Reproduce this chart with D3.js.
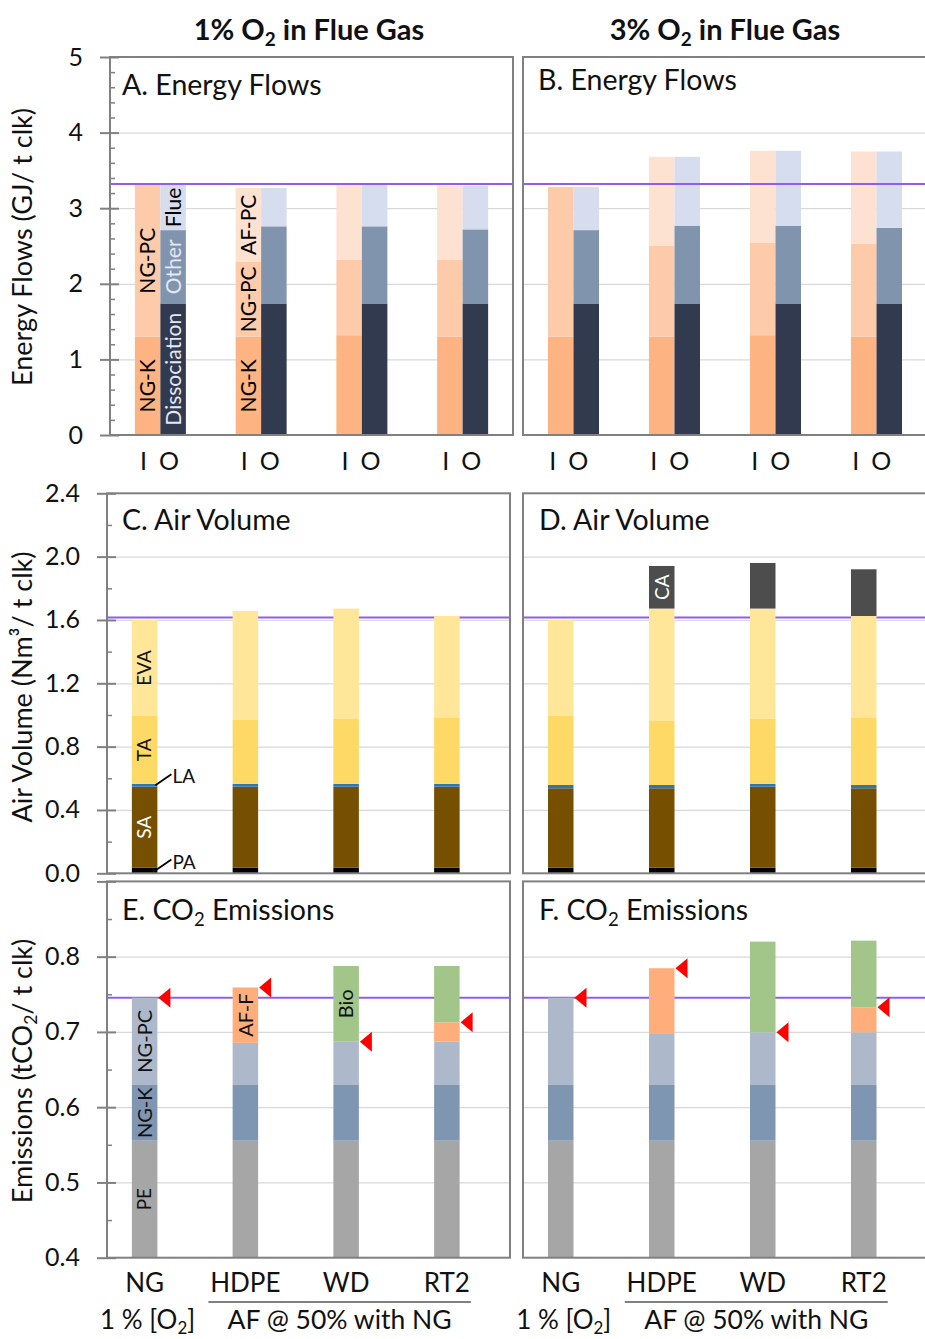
<!DOCTYPE html>
<html><head><meta charset="utf-8">
<script src="https://cdn.jsdelivr.net/npm/d3@7"></script>
<style>body{margin:0;background:#fff} svg{display:block} text{font-family:Lato,'Open Sans',sans-serif}</style>
</head><body><svg id="c" width="925" height="1339"></svg>
<script>
// ---------- DATA ----------
const fuels = ["NG","HDPE","WD","RT2"];
// Energy flows (GJ/t clk), segment sizes. Inputs (I) and outputs (O)
const e1_NGK  = [1.30,1.30,1.32,1.30];
const e1_NGPC = [2.01,0.99,1.00,1.02];
const e1_AFPC = [0.00,0.98,0.99,0.98];
const e1_Diss = [1.74,1.74,1.74,1.74];
const e1_Other= [0.97,1.02,1.02,0.98];
const e1_Flue = [0.60,0.51,0.55,0.58];
const e3_NGK  = [1.30,1.30,1.32,1.30];
const e3_NGPC = [1.98,1.20,1.22,1.23];
const e3_AFPC = [0.00,1.18,1.22,1.22];
const e3_Diss = [1.74,1.74,1.74,1.74];
const e3_Other= [0.97,1.03,1.03,1.00];
const e3_Flue = [0.57,0.91,0.99,1.01];
const refEnergy = 3.32;
// Air volume (Nm3/t clk)
const a1_PA  = [0.035,0.035,0.035,0.035];
const a1_SA  = [0.512,0.512,0.512,0.512];
const a1_LA  = [0.018,0.018,0.018,0.018];
const a1_TA  = [0.429,0.404,0.410,0.416];
const a1_EVA = [0.606,0.688,0.697,0.644];
const a1_CA  = [0,0,0,0];
const a3_PA  = [0.035,0.035,0.035,0.035];
const a3_SA  = [0.502,0.502,0.512,0.502];
const a3_LA  = [0.021,0.021,0.018,0.021];
const a3_TA  = [0.436,0.404,0.410,0.423];
const a3_EVA = [0.606,0.710,0.697,0.644];
const a3_CA  = [0.000,0.269,0.288,0.295];
const refAir = 1.615;
// CO2 emissions (tCO2/t clk)
const c1_PE   = [0.5555,0.5555,0.5555,0.5555];
const c1_NGK  = [0.074,0.074,0.074,0.074];
const c1_NGPC = [0.116,0.056,0.0575,0.0575];
const c1_AFF  = [0.000,0.0736,0.000,0.0258];
const c1_Bio  = [0.000,0.000,0.1006,0.0748];
const c3_PE   = [0.5555,0.5555,0.5555,0.5555];
const c3_NGK  = [0.074,0.074,0.074,0.074];
const c3_NGPC = [0.116,0.0678,0.070,0.070];
const c3_AFF  = [0.000,0.0873,0.000,0.0332];
const c3_Bio  = [0.000,0.000,0.1205,0.0886];
const refCO2 = 0.7455;

const energyTicks = [0,1,2,3,4,5];
const airTicks = [0,0.4,0.8,1.2,1.6,2.0,2.4];
const co2Ticks = [0.4,0.5,0.6,0.7,0.8];

// ---------- STYLE ----------
const col = {
  NGK:"#FDB482", NGPC:"#FDCBA9", AFPC:"#FEE2D1",
  Diss:"#313A4E", Other:"#8094AE", Flue:"#D6DDEF",
  PA:"#000000", SA:"#765000", LA:"#2E75B6", TA:"#FFD966", EVA:"#FFE699", CA:"#4D4D4D",
  PE:"#A6A6A6", cNGK:"#7F96B3", cNGPC:"#ADB9CA", AFF:"#FFAD7A", Bio:"#A2C68A"
};
const purple = "#8F5FE8", frame = "#808080", grid = "#D9D9D9";
const barW = 25.5;

const svg = d3.select("#c");

const layout = {
  A:{x0:110,x1:513,y0:57,y1:435}, B:{x0:523,x1:927,y0:57,y1:435},
  C:{x0:107,x1:510,y0:493.3,y1:873.3}, D:{x0:523,x1:927,y0:493.3,y1:873.3},
  E:{x0:107,x1:510,y0:881.4,y1:1257.7}, F:{x0:523,x1:927,y0:881.4,y1:1257.7}
};

function mk(p, dom){
  return {p, x:d3.scaleBand().domain(fuels).range([p.x0,p.x1]),
          y:d3.scaleLinear().domain(dom).range([p.y1,p.y0]), lo:dom[0]};
}
function barX(P,f,which){ return P.x(f)+P.x.bandwidth()/2-barW+(which==="O"?barW:0); }

function gridlines(P, vals){
  const g = svg.append("g").attr("transform",`translate(${P.p.x0},0)`)
    .call(d3.axisLeft(P.y).tickValues(vals).tickSize(-(P.p.x1-P.p.x0)).tickFormat(""));
  g.select(".domain").remove();
  g.selectAll("line").attr("stroke",grid).attr("stroke-width",1.2);
}
function yaxis(P, major, minor, fmt, labelled){
  const g = svg.append("g").attr("transform",`translate(${P.p.x0},0)`);
  const a = g.append("g").call(d3.axisLeft(P.y).tickValues(major).tickSize(10).tickPadding(17)
     .tickFormat(d=> labelled.includes(d)? fmt(d):""));
  a.select(".domain").remove();
  a.selectAll("line").attr("stroke",frame).attr("stroke-width",2);
  a.selectAll("text").attr("font-size",25).attr("fill","#111").style("font-family","Lato");
  const b = g.append("g").call(d3.axisRight(P.y).tickValues(major).tickSize(9).tickFormat(""));
  b.select(".domain").remove(); b.selectAll("line").attr("stroke",frame).attr("stroke-width",2);
  const c = g.append("g").call(d3.axisRight(P.y).tickValues(minor).tickSize(5).tickFormat(""));
  c.select(".domain").remove(); c.selectAll("line").attr("stroke",frame).attr("stroke-width",1.5);
}
function border(P){
  svg.append("rect").attr("x",P.p.x0).attr("y",P.p.y0).attr("width",P.p.x1-P.p.x0)
    .attr("height",P.p.y1-P.p.y0).attr("fill","none").attr("stroke",frame).attr("stroke-width",2);
}
function refLine(P, v){
  svg.append("line").attr("x1",P.p.x0).attr("x2",P.p.x1).attr("y1",P.y(v)).attr("y2",P.y(v))
    .attr("stroke",purple).attr("stroke-width",2);
}
function stackBars(P, rows, keys, colors, which){
  const series = d3.stack().keys(keys)(rows);
  const g = svg.append("g");
  series.forEach(s=>{
    g.selectAll(null).data(s.filter(d=>d[1]-d[0]>0)).join("rect")
      .attr("x",d=>barX(P,d.data.fuel,which)).attr("width",barW)
      .attr("y",d=>P.y(d[1]))
      .attr("height",d=>P.y(Math.max(d[0],P.lo))-P.y(d[1]))
      .attr("fill",colors[s.key]);
  });
  return series;
}
function segLabel(P, series, which, fuel, key, text, color, size){
  const s = series.find(t=>t.key===key); const d = s[fuels.indexOf(fuel)];
  const cx = barX(P,fuel,which)+barW/2, cy = P.y((Math.max(d[0],P.lo)+d[1])/2);
  svg.append("text").attr("transform",`translate(${cx},${cy}) rotate(-90)`)
    .attr("text-anchor","middle").attr("dy","0.36em").attr("font-size",size).attr("fill",color).text(text);
}
// text with optional subscript parts
function rich(t, parts, size){
  let back = 0;
  parts.forEach(pp=>{
    if(pp.sub){ const off = size*0.2;
      t.append("tspan").attr("font-size",size*0.65).attr("dy",off+back).text(pp.sub); back = -off; }
    else { t.append("tspan").attr("dy",back).text(pp.t); back = 0; }
  });
  return t;
}
function title(x,y,parts,size,weight){
  const t = svg.append("text").attr("x",x).attr("y",y).attr("font-size",size).attr("font-weight",weight||400).attr("fill","#111");
  return rich(t, parts, size);
}

// ---------- TOP: ENERGY ----------
const PA_ = mk(layout.A,[0,5]), PB_ = mk(layout.B,[0,5]);
function energyPanel(P, NGK, NGPC, AFPC, Diss, Other, Flue){
  gridlines(P,[1,2,3,4]);
  const rowsI = fuels.map((f,i)=>({fuel:f, NGK:NGK[i], NGPC:NGPC[i], AFPC:AFPC[i]}));
  const rowsO = fuels.map((f,i)=>({fuel:f, Diss:Diss[i], Other:Other[i], Flue:Flue[i]}));
  const sI = stackBars(P, rowsI, ["NGK","NGPC","AFPC"], col, "I");
  const sO = stackBars(P, rowsO, ["Diss","Other","Flue"], col, "O");
  refLine(P, refEnergy);
  border(P);
  return {sI, sO};
}
const eA = energyPanel(PA_, e1_NGK,e1_NGPC,e1_AFPC,e1_Diss,e1_Other,e1_Flue);
const eB = energyPanel(PB_, e3_NGK,e3_NGPC,e3_AFPC,e3_Diss,e3_Other,e3_Flue);
yaxis(PA_, energyTicks, d3.range(0.2,5,0.2).filter(v=>Math.abs(v-Math.round(v))>0.01), d3.format("d"), energyTicks);
segLabel(PA_, eA.sI, "I","NG","NGK","NG-K","#000",21);
segLabel(PA_, eA.sI, "I","NG","NGPC","NG-PC","#000",21);
segLabel(PA_, eA.sO, "O","NG","Diss","Dissociation","#E4E8F3",21);
segLabel(PA_, eA.sO, "O","NG","Other","Other","#E4E8F3",21);
segLabel(PA_, eA.sO, "O","NG","Flue","Flue","#000",21);
segLabel(PA_, eA.sI, "I","HDPE","NGK","NG-K","#000",21);
segLabel(PA_, eA.sI, "I","HDPE","NGPC","NG-PC","#000",21);
segLabel(PA_, eA.sI, "I","HDPE","AFPC","AF-PC","#000",21);
// I / O labels
[[PA_,-4],[PB_,-8]].forEach(([P,off])=>{
  fuels.forEach(f=>{
    ["I","O"].forEach(w=>{
      svg.append("text").attr("x",barX(P,f,w)+barW/2+off).attr("y",470).attr("text-anchor","middle")
        .attr("font-size",25).attr("fill","#111").text(w);
    });
  });
});
title(122,95,[{t:"A. Energy Flows"}],28.5);
title(538,90,[{t:"B. Energy Flows"}],28.5);
// column titles
title(0,40,[{t:"1% O"},{sub:"2"},{t:" in Flue Gas"}],29,700).attr("x",309).attr("text-anchor","middle");
title(0,40,[{t:"3% O"},{sub:"2"},{t:" in Flue Gas"}],29,700).attr("x",725).attr("text-anchor","middle");

// ---------- MIDDLE: AIR ----------
const PC_ = mk(layout.C,[0,2.4]), PD_ = mk(layout.D,[0,2.4]);
function airPanel(P, PA, SA, LA, TA, EVA, CA){
  gridlines(P,[0.4,0.8,1.2,1.6,2.0]);
  refLine(P, refAir);
  const rows = fuels.map((f,i)=>({fuel:f, PA:PA[i], SA:SA[i], LA:LA[i], TA:TA[i], EVA:EVA[i], CA:CA[i]}));
  const s = stackBars(P, rows, ["PA","SA","LA","TA","EVA","CA"], col, "I");
  border(P);
  return s;
}
const sC = airPanel(PC_, a1_PA,a1_SA,a1_LA,a1_TA,a1_EVA,a1_CA);
const sD = airPanel(PD_, a3_PA,a3_SA,a3_LA,a3_TA,a3_EVA,a3_CA);
yaxis(PC_, airTicks, [0.2,0.6,1.0,1.4,1.8,2.2], d3.format(".1f"), airTicks);
segLabel(PC_, sC, "I","NG","EVA","EVA","#111",19);
segLabel(PC_, sC, "I","NG","TA","TA","#111",19);
segLabel(PC_, sC, "I","NG","SA","SA","#fff",19);
segLabel(PD_, sD, "I","HDPE","CA","CA","#fff",19);
// LA / PA callouts
(function(){
  const bx = barX(PC_,"NG","I")+barW;
  const la = sC.find(t=>t.key==="LA")[0], pa = sC.find(t=>t.key==="PA")[0];
  const yLA = PC_.y((la[0]+la[1])/2), yPA = PC_.y((pa[0]+pa[1])/2);
  [[yLA,"LA"],[yPA,"PA"]].forEach(([yy,t])=>{
    svg.append("line").attr("x1",bx-2).attr("y1",yy).attr("x2",bx+14).attr("y2",yy-11)
      .attr("stroke","#000").attr("stroke-width",1.8);
    svg.append("text").attr("x",bx+15).attr("y",yy-2).attr("font-size",19).attr("fill","#111").text(t);
  });
})();
title(122,530,[{t:"C. Air Volume"}],28.5);
title(539,530,[{t:"D. Air Volume"}],28.5);

// ---------- BOTTOM: CO2 ----------
const PE_ = mk(layout.E,[0.4,0.9]), PF_ = mk(layout.F,[0.4,0.9]);
const cCol = {PE:col.PE, NGK:col.cNGK, NGPC:col.cNGPC, AFF:col.AFF, Bio:col.Bio};
function co2Panel(P, PE, NGK, NGPC, AFF, Bio){
  gridlines(P,[0.5,0.6,0.7,0.8]);
  refLine(P, refCO2);
  const rows = fuels.map((f,i)=>({fuel:f, PE:PE[i], NGK:NGK[i], NGPC:NGPC[i], AFF:AFF[i], Bio:Bio[i]}));
  const s = stackBars(P, rows, ["PE","NGK","NGPC","AFF","Bio"], cCol, "I");
  // red markers at fossil total
  rows.forEach(r=>{
    const tot = r.PE+r.NGK+r.NGPC+r.AFF;
    const tx = barX(P,r.fuel,"I")+barW+1, ty = P.y(tot);
    svg.append("path").attr("d",`M${tx},${ty}L${tx+12},${ty-10}L${tx+12},${ty+10}Z`).attr("fill","#FF0000");
  });
  border(P);
  // x labels
  fuels.forEach(f=>{
    svg.append("text").attr("x",barX(P,f,"I")+barW/2).attr("y",1292).attr("text-anchor","middle")
      .attr("font-size",26).attr("fill","#111").text(f);
  });
  const xl = barX(P,"HDPE","I")+barW/2-37, xr = barX(P,"RT2","I")+barW/2+24;
  svg.append("line").attr("x1",xl).attr("x2",xr).attr("y1",1302).attr("y2",1302).attr("stroke",frame).attr("stroke-width",2);
  title(0,1329,[{t:"1 % [O"},{sub:"2"},{t:"]"}],26).attr("x",barX(P,"NG","I")+barW/2+3).attr("text-anchor","middle");
  svg.append("text").attr("x",(xl+xr)/2).attr("y",1329).attr("text-anchor","middle").attr("font-size",26.5)
    .attr("fill","#111").text("AF @ 50% with NG");
  return s;
}
const sE = co2Panel(PE_, c1_PE,c1_NGK,c1_NGPC,c1_AFF,c1_Bio);
const sF = co2Panel(PF_, c3_PE,c3_NGK,c3_NGPC,c3_AFF,c3_Bio);
yaxis(PE_, [0.4,0.5,0.6,0.7,0.8,0.9], [0.45,0.55,0.65,0.75,0.85], d3.format(".1f"), co2Ticks);
segLabel(PE_, sE, "I","NG","NGPC","NG-PC","#111",20);
segLabel(PE_, sE, "I","NG","NGK","NG-K","#111",20);
segLabel(PE_, sE, "I","NG","PE","PE","#111",19);
segLabel(PE_, sE, "I","HDPE","AFF","AF-F","#111",20);
segLabel(PE_, sE, "I","WD","Bio","Bio","#111",20);
title(122,920,[{t:"E. CO"},{sub:"2"},{t:" Emissions"}],28.5);
title(539,920,[{t:"F. CO"},{sub:"2"},{t:" Emissions"}],28.5);

// ---------- Y TITLES ----------
function ytitle(cy, parts){
  const t = svg.append("text").attr("transform",`translate(32,${cy}) rotate(-90)`).attr("text-anchor","middle")
    .attr("font-size",27).attr("fill","#111");
  rich(t, parts, 27);
}
ytitle(247,[{t:"Energy Flows (GJ/ t clk)"}]);
ytitle(687,[{t:"Air Volume (Nm³/ t clk)"}]);
ytitle(1071,[{t:"Emissions (tCO"},{sub:"2"},{t:"/ t clk)"}]);
</script></body></html>
